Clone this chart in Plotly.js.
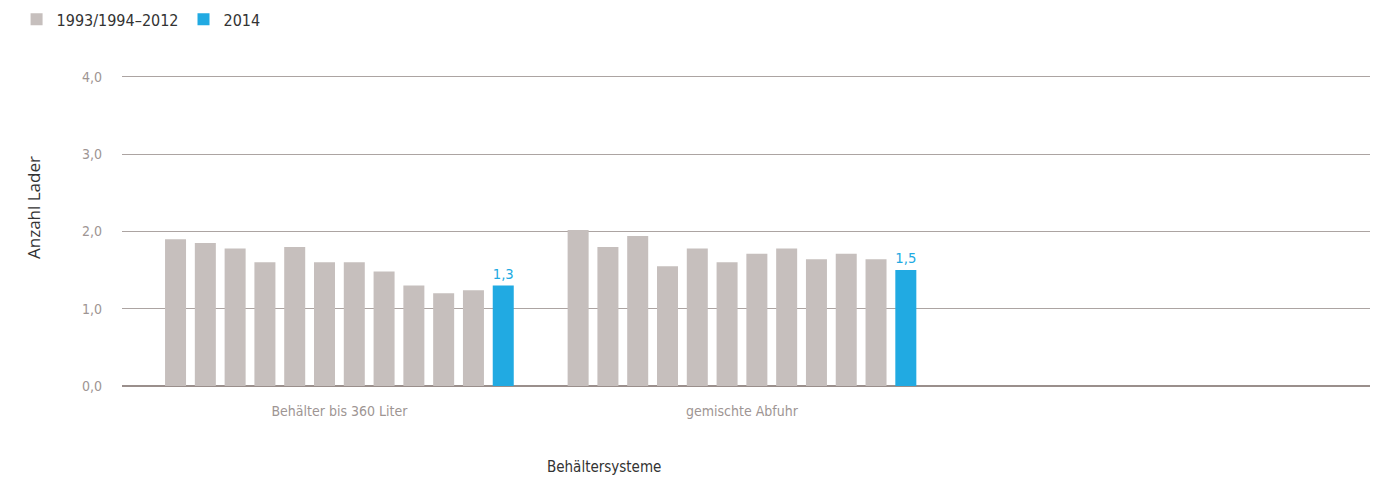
<!DOCTYPE html>
<html>
<head>
<meta charset="utf-8">
<script src="https://cdn.plot.ly/plotly-3.0.1.min.js"></script>
<style>html,body{margin:0;padding:0;background:#fff;}#chart{width:1382px;height:481px;}</style>
</head>
<body>
<div id="chart"></div>
<script>
// Categories (container systems)
const categories = ["Behälter bis 360 Liter", "gemischte Abfuhr"];
// Historical survey values 1993/1994–2012 (11 surveys), per category
const histBehaelter = [1.9, 1.85, 1.78, 1.6, 1.8, 1.6, 1.6, 1.48, 1.3, 1.2, 1.24];
const histGemischt  = [2.02, 1.8, 1.94, 1.55, 1.78, 1.6, 1.71, 1.78, 1.64, 1.71, 1.64];
// 2014 values
const values2014 = [1.3, 1.5];
const legendNames = ["1993/1994–2012", "2014"];
const yTicks = [0, 1, 2, 3, 4];

const FONT = "DejaVu Sans Condensed, Liberation Sans Narrow, Roboto, sans-serif";
const FONT_WIDE = "Open Sans, Noto Sans, sans-serif";
const GRAY = "#c6bfbd";
const BLUE = "#21aae2";

const traces = [];
for (let i = 0; i < histBehaelter.length; i++) {
  traces.push({
    type: "bar",
    x: categories,
    y: [histBehaelter[i], histGemischt[i]],
    name: legendNames[0],
    legendgroup: "hist",
    showlegend: i === 0,
    marker: {color: GRAY},
    hoverinfo: "y"
  });
}
traces.push({
  type: "bar",
  x: categories,
  y: values2014,
  name: legendNames[1],
  legendgroup: "2014",
  marker: {color: BLUE},
  text: values2014,
  texttemplate: "%{y:.1f}",
  textposition: "outside",
  cliponaxis: false,
  textfont: {family: FONT, size: 15, color: BLUE},
  hoverinfo: "y"
});

const layout = {
  width: 1382, height: 481,
  margin: {l: 122, r: 12, t: 73, b: 95, autoexpand: false},
  paper_bgcolor: "#fff", plot_bgcolor: "#fff",
  separators: ",.",
  barmode: "group",
  bargap: 0.112,
  bargroupgap: 0.295,
  font: {family: FONT, color: "#333"},
  showlegend: true,
  legend: {
    orientation: "h", xref: "container", yref: "container",
    x: 0.012, xanchor: "left", y: 0.995, yanchor: "top",
    font: {family: FONT, size: 16, color: "#333"},
    traceorder: "normal", itemwidth: 30
  },
  xaxis: {
    type: "category",
    range: [-0.54, 2.56],
    showgrid: false, zeroline: false, showline: false,
    ticks: "",
    tickfont: {family: FONT, size: 14, color: "#9e9593"},
    ticklabelstandoff: 15
  },
  yaxis: {
    range: [0, 4.05],
    tickvals: yTicks,
    tickformat: ".1f",
    showgrid: true, gridcolor: "#aca4a2", gridwidth: 1,
    zeroline: true, zerolinecolor: "#9a8f8c", zerolinewidth: 1.5,
    showline: false, ticks: "",
    tickfont: {family: FONT, size: 14, color: "#9e9593"},
    ticklabelstandoff: 19
  },
  annotations: [
    {text: "Anzahl Lader", xref: "paper", yref: "paper", x: -0.071, y: 0.57,
     xanchor: "center", yanchor: "middle", textangle: -90, showarrow: false,
     font: {family: FONT_WIDE, size: 17, color: "#333"}},
    {text: "Behältersysteme", xref: "paper", yref: "paper", x: 0.386, y: -0.26,
     xanchor: "center", yanchor: "middle", showarrow: false,
     font: {family: FONT, size: 15, color: "#333"}}
  ]
};

Plotly.newPlot("chart", traces, layout, {displayModeBar: false, staticPlot: true});
</script>
</body>
</html>
